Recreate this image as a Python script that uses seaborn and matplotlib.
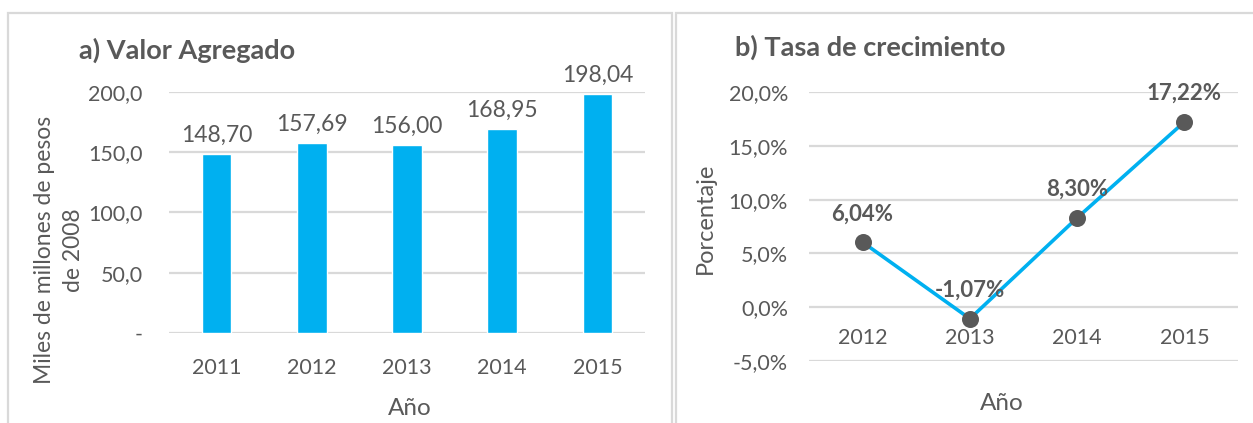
import matplotlib
matplotlib.use("Agg")
import matplotlib.pyplot as plt
from matplotlib.patches import Rectangle
import seaborn as sns
import numpy as np

# ---- data ----
years_a = ["2011", "2012", "2013", "2014", "2015"]
valor_agregado = [148.70, 157.69, 156.00, 168.95, 198.04]
years_b = ["2012", "2013", "2014", "2015"]
tasa_crec = [6.04, -1.07, 8.30, 17.22]
yticks_a = [0, 50, 100, 150, 200]
ytick_labels_a = ["-", "50,0", "100,0", "150,0", "200,0"]
yticks_b = [-5, 0, 5, 10, 15, 20]
ytick_labels_b = ["-5,0%", "0,0%", "5,0%", "10,0%", "15,0%", "20,0%"]

sns.set_theme(style="white")
plt.rcParams['font.family'] = ['Lato', 'DejaVu Sans']

TXT = "#595959"
GRID = "#D9D9D9"
BLUE = "#00B0F0"

W, H = 1253, 423
fig = plt.figure(figsize=(W / 100, H / 100), dpi=100)

def fx(px):
    return px / W

def fy(py):
    return 1 - py / H

# panel borders
fig.patches.append(Rectangle((fx(8), fy(440)), fx(672 - 8), (440 - 13) / H,
                             transform=fig.transFigure, fill=False,
                             edgecolor=GRID, lw=1.6))
fig.patches.append(Rectangle((fx(676), fy(440)), fx(1290 - 676), (440 - 13) / H,
                             transform=fig.transFigure, fill=False,
                             edgecolor=GRID, lw=1.6))

TICK_FS = 15.5

# ---- panel a ----
axa = fig.add_axes([fx(169), fy(333), fx(645 - 169), (333 - 92) / H])
sns.barplot(x=years_a, y=valor_agregado, ax=axa, color=BLUE, width=0.31,
            saturation=1, zorder=3)
axa.set_xlim(-0.5, 4.5)
axa.set_ylim(0, 200)
axa.set_yticks(yticks_a)
axa.set_yticklabels(ytick_labels_a)
axa.yaxis.grid(True, color=GRID, lw=1.6, zorder=0)
axa.set_axisbelow(True)
for s in axa.spines.values():
    s.set_visible(False)
axa.tick_params(axis='both', length=0, labelsize=TICK_FS, labelcolor=TXT)
axa.tick_params(axis='y', pad=19)
axa.tick_params(axis='x', pad=18)
labels_a = [f"{v:.2f}".replace(".", ",") for v in valor_agregado]
axa.bar_label(axa.containers[0], labels=labels_a, padding=6,
              fontsize=16.5, color=TXT)
axa.set_xlabel("")
axa.set_ylabel("")
fig.text(fx(410), fy(408), "Año", fontsize=17.5, color=TXT,
         ha="center", va="center")
fig.text(fx(59), fy(250), "Miles de millones de pesos\nde 2008", rotation=90,
         ha="center", va="center", multialignment="center",
         fontsize=16.5, color=TXT, linespacing=1.45)
fig.text(fx(79), fy(50), "a) Valor Agregado", fontsize=19.5,
         fontweight="bold", color=TXT, ha="left", va="center")

# ---- panel b ----
axb = fig.add_axes([fx(809), fy(361), fx(1238 - 809), (361 - 92) / H])
sns.lineplot(x=years_b, y=tasa_crec, ax=axb, color=BLUE, lw=2.6,
             sort=False, zorder=3)
sns.scatterplot(x=years_b, y=tasa_crec, ax=axb, color=TXT, s=150,
                edgecolor=TXT, linewidth=0, zorder=4)
axb.set_xlim(-0.5, 3.5)
axb.set_ylim(-5, 20)
axb.set_yticks(yticks_b)
axb.set_yticklabels(ytick_labels_b)
axb.yaxis.grid(True, color=GRID, lw=1.6, zorder=0)
axb.set_axisbelow(True)
for s in axb.spines.values():
    s.set_visible(False)
axb.spines['bottom'].set_position(('data', 0))
axb.tick_params(axis='both', length=0, labelsize=TICK_FS, labelcolor=TXT)
axb.tick_params(axis='y', pad=15)
axb.tick_params(axis='x', pad=15)
for i, v in enumerate(tasa_crec):
    axb.annotate(f"{v:.2f}".replace(".", ",") + "%", (i, v),
                 xytext=(0, 20.5), textcoords="offset points",
                 ha="center", va="center", fontsize=16,
                 fontweight="bold", color=TXT, zorder=5)
axb.set_xlabel("")
axb.set_ylabel("")
fig.text(fx(1002), fy(403), "Año", fontsize=17.5, color=TXT,
         ha="center", va="center")
fig.text(fx(705), fy(218), "Porcentaje", rotation=90, fontsize=17,
         color=TXT, ha="center", va="center")
fig.text(fx(735), fy(47), "b) Tasa de crecimiento", fontsize=19.5,
         fontweight="bold", color=TXT, ha="left", va="center")

fig.savefig("out.png", dpi=100, facecolor="white")
